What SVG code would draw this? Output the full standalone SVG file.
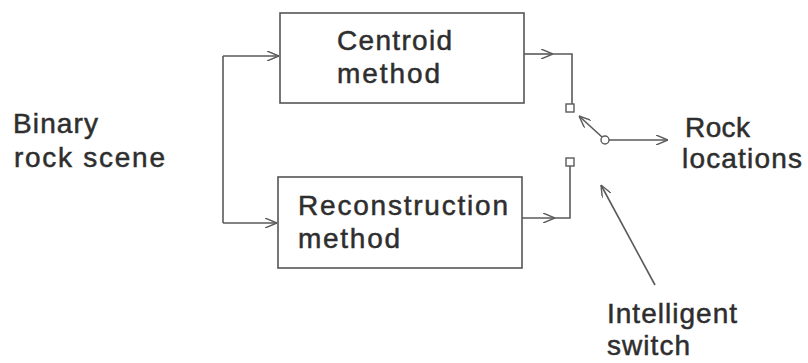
<svg xmlns="http://www.w3.org/2000/svg" width="808" height="363" viewBox="0 0 808 363">
<style>
.box{fill:#fff;stroke:#555;stroke-width:1.6}
.ln{fill:none;stroke:#5a5a5a;stroke-width:1.6}
.t{font-family:"Liberation Sans",Arial,sans-serif;font-size:28px;fill:#2e2e2e;stroke:#2e2e2e;stroke-width:0.5}
.sq{fill:#fff;stroke:#5a5a5a;stroke-width:1.4}
</style>
<defs>
<marker id="ah" viewBox="0 0 12 10" refX="12" refY="5" markerWidth="12" markerHeight="10" markerUnits="userSpaceOnUse" orient="auto">
<path d="M0,0 L12,5 L0,10" fill="none" stroke="#5a5a5a" stroke-width="1.4"/>
</marker>
</defs>
<rect width="808" height="363" fill="#fff"/>
<g id="input">
<text class="t" x="13" y="133" textLength="85" lengthAdjust="spacing">Binary</text>
<text class="t" x="14" y="167" textLength="151" lengthAdjust="spacing">rock scene</text>
</g>
<g id="centroid">
<rect class="box" x="280" y="13" width="244" height="90"/>
<text class="t" x="337" y="50" textLength="115" lengthAdjust="spacing">Centroid</text>
<text class="t" x="337" y="83" textLength="103" lengthAdjust="spacing">method</text>
</g>
<g id="reconstruction">
<rect class="box" x="278" y="177" width="244" height="91"/>
<text class="t" x="298" y="215" textLength="210" lengthAdjust="spacing">Reconstruction</text>
<text class="t" x="298" y="248" textLength="102" lengthAdjust="spacing">method</text>
</g>
<g id="output">
<text class="t" x="685" y="137" textLength="65" lengthAdjust="spacing">Rock</text>
<text class="t" x="682" y="168" textLength="120" lengthAdjust="spacing">locations</text>
</g>
<g id="switch-label">
<text class="t" x="607" y="323" textLength="130" lengthAdjust="spacing">Intelligent</text>
<text class="t" x="607" y="355" textLength="83" lengthAdjust="spacing">switch</text>
</g>
<g id="switch">
<rect class="sq" x="566" y="104" width="8" height="8"/>
<rect class="sq" x="566" y="158" width="8" height="8"/>
<circle class="sq" cx="605" cy="140" r="4"/>
</g>
<g id="connectors">
<path class="ln" d="M223,56 V223"/>
<path class="ln" d="M223,56 H279" marker-end="url(#ah)"/>
<path class="ln" d="M223,223 H277" marker-end="url(#ah)"/>
<path class="ln" d="M524,54 H553" marker-end="url(#ah)"/>
<path class="ln" d="M553,54 H572 V104"/>
<path class="ln" d="M522,218 H555" marker-end="url(#ah)"/>
<path class="ln" d="M555,218 H570 V166"/>
<path class="ln" d="M602,137 L579,116" marker-end="url(#ah)"/>
<path class="ln" d="M609,140 H668" marker-end="url(#ah)"/>
<path class="ln" d="M655,285 L601,185" marker-end="url(#ah)"/>
</g>
</svg>
